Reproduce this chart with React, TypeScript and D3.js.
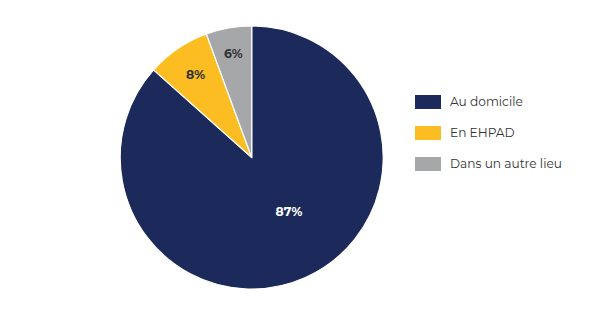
import React from "react";
import * as d3 from "d3";

const categories = ["Au domicile", "En EHPAD", "Dans un autre lieu"];
const values = [86.6, 7.8, 5.6];
const labels = ["87%", "8%", "6%"];
const colors = ["#1c2a5b", "#fbbd22", "#a5a7a9"];
const labelColors = ["#ffffff", "#333333", "#333333"];
const labelRadiusFactor = [0.5, 0.76, 0.8];

export default function App() {
  const W = 594, H = 318;
  const cx = 251.7, cy = 157.5, R = 131.5;
  const pie = d3.pie<number>().sort(null).value((d) => d)(values);
  const arc = d3.arc<d3.PieArcDatum<number>>().innerRadius(0).outerRadius(R);
  const font = "Montserrat, 'Open Sans', 'DejaVu Sans', sans-serif";
  return (
    <svg width={W} height={H} style={{ position: "absolute", left: 0, top: 0, background: "#fff" }}>
      <g transform={`translate(${cx},${cy})`}>
        {pie.map((p, i) => (
          <path key={i} d={arc(p) || ""} fill={colors[i]} stroke="#ffffff" strokeWidth={1.2} />
        ))}
        {pie.map((p, i) => {
          const a = i === 0 ? (p.startAngle + p.endAngle) / 2 - 0.18 : (p.startAngle + p.endAngle) / 2;
          const r = R * labelRadiusFactor[i];
          const x = Math.sin(a) * r;
          const y = -Math.cos(a) * r;
          return (
            <text key={i} x={x} y={y} dy="0.35em" textAnchor="middle" fill={labelColors[i]}
              fontFamily={font} fontWeight={700} fontSize={12.4}>{labels[i]}</text>
          );
        })}
      </g>
      {categories.map((c, i) => (
        <g key={c} transform={`translate(415,${102 + i * 31})`}>
          <rect x={0} y={-7} width={26} height={14} fill={colors[i]} />
          <text x={35} y={0} dy="0.35em" fontFamily={font} fontSize={12.2} fill="#333333">{c}</text>
        </g>
      ))}
    </svg>
  );
}
